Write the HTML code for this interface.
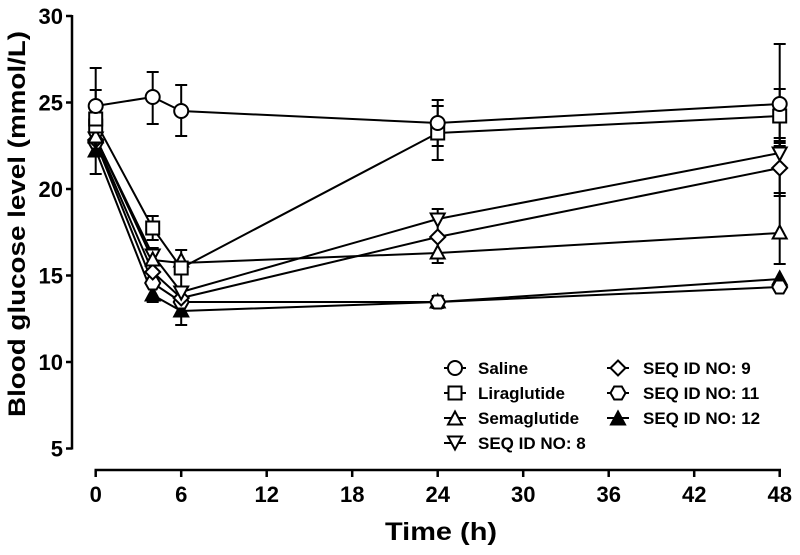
<!DOCTYPE html>
<html>
<head>
<meta charset="utf-8">
<style>
html,body{margin:0;padding:0;background:#fff;}
svg{display:block;}
text{font-family:"Liberation Sans",Arial,sans-serif;font-weight:bold;fill:#000;}
</style>
</head>
<body>
<svg width="800" height="555" viewBox="0 0 800 555" xmlns="http://www.w3.org/2000/svg">
<defs>
  <circle id="mc" r="7" fill="#fff" stroke="#000" stroke-width="2"/>
  <rect id="ms" x="-6.5" y="-6.5" width="13" height="13" fill="#fff" stroke="#000" stroke-width="2"/>
  <polygon id="mtu" points="0,-7.5 7,5.5 -7,5.5" fill="#fff" stroke="#000" stroke-width="2"/>
  <polygon id="mtd" points="0,7.5 7,-5.5 -7,-5.5" fill="#fff" stroke="#000" stroke-width="2"/>
  <polygon id="md" points="0,-7.5 7.5,0 0,7.5 -7.5,0" fill="#fff" stroke="#000" stroke-width="2"/>
  <polygon id="mh" points="-7.5,0 -3.8,-6.5 3.8,-6.5 7.5,0 3.8,6.5 -3.8,6.5" fill="#fff" stroke="#000" stroke-width="2"/>
  <polygon id="mf" points="0,-7.5 7,5.5 -7,5.5" fill="#000" stroke="#000" stroke-width="2"/>
</defs>

<!-- Y axis -->
<g stroke="#000" stroke-width="2.5" fill="none">
  <line x1="72" y1="15" x2="72" y2="449.5"/>
  <line x1="66" y1="16" x2="72" y2="16"/>
  <line x1="66" y1="102.5" x2="72" y2="102.5"/>
  <line x1="66" y1="189" x2="72" y2="189"/>
  <line x1="66" y1="275.5" x2="72" y2="275.5"/>
  <line x1="66" y1="362" x2="72" y2="362"/>
  <line x1="66" y1="448.5" x2="72" y2="448.5"/>
</g>
<g font-size="22" text-anchor="end">
  <text x="63" y="24">30</text>
  <text x="63" y="110.5">25</text>
  <text x="63" y="197">20</text>
  <text x="63" y="283.5">15</text>
  <text x="63" y="370">10</text>
  <text x="63" y="456.5">5</text>
</g>
<text transform="translate(25,224) rotate(-90)" text-anchor="middle" font-size="24" textLength="386" lengthAdjust="spacingAndGlyphs">Blood glucose level (mmol/L)</text>

<!-- X axis -->
<g stroke="#000" stroke-width="2.5" fill="none">
  <line x1="94.5" y1="470" x2="781" y2="470"/>
  <line x1="95.7" y1="470" x2="95.7" y2="477"/>
  <line x1="181.2" y1="470" x2="181.2" y2="477"/>
  <line x1="266.7" y1="470" x2="266.7" y2="477"/>
  <line x1="352.2" y1="470" x2="352.2" y2="477"/>
  <line x1="437.7" y1="470" x2="437.7" y2="477"/>
  <line x1="523.2" y1="470" x2="523.2" y2="477"/>
  <line x1="608.7" y1="470" x2="608.7" y2="477"/>
  <line x1="694.2" y1="470" x2="694.2" y2="477"/>
  <line x1="779.7" y1="470" x2="779.7" y2="477"/>
</g>
<g font-size="22" text-anchor="middle">
  <text x="95.7" y="502">0</text>
  <text x="181.2" y="502">6</text>
  <text x="266.7" y="502">12</text>
  <text x="352.2" y="502">18</text>
  <text x="437.7" y="502">24</text>
  <text x="523.2" y="502">30</text>
  <text x="608.7" y="502">36</text>
  <text x="694.2" y="502">42</text>
  <text x="779.7" y="502">48</text>
</g>
<text x="441" y="540" text-anchor="middle" font-size="25" textLength="112" lengthAdjust="spacingAndGlyphs">Time (h)</text>

<!-- Error bars -->
<g stroke="#000" stroke-width="2" fill="none">
  <path d="M95.7,68V144M89.7,68H101.7M89.7,144H101.7"/>
  <path d="M152.7,72V124M146.7,72H158.7M146.7,124H158.7"/>
  <path d="M181.2,85V136M175.2,85H187.2M175.2,136H187.2"/>
  <path d="M437.7,100V146M431.7,100H443.7M431.7,146H443.7"/>
  <path d="M779.7,44V164M773.7,44H785.7"/>
  <path d="M95.7,90V154M89.7,90H101.7"/>
  <path d="M152.7,216V240M146.7,216H158.7M146.7,240H158.7"/>
  <path d="M181.2,250V288M175.2,250H187.2M175.2,288H187.2"/>
  <path d="M437.7,106V160M431.7,106H443.7M431.7,160H443.7"/>
  <path d="M779.7,89V143M773.7,89H785.7M773.7,143H785.7"/>
  <path d="M152.7,250V270M146.7,250H158.7"/>
  <path d="M437.7,243V263M431.7,263H443.7"/>
  <path d="M779.7,196V264M773.7,196H785.7M773.7,264H785.7"/>
  <path d="M152.7,248V262M146.7,248H158.7"/>
  <path d="M437.7,209V229M431.7,209H443.7"/>
  <path d="M779.7,141V165M773.7,141H785.7"/>
  <path d="M779.7,141V195M773.7,146H785.7M773.7,193H785.7"/>
  <path d="M779.7,140V196M773.7,138H785.7"/>
  <path d="M437.7,296V308M431.7,296H443.7M431.7,308H443.7"/>
  <path d="M95.7,126V174M89.7,174H101.7"/>
  <path d="M152.7,288V302M146.7,302H158.7"/>
  <path d="M181.2,297V325M175.2,325H187.2"/>
</g>

<!-- Lines -->
<g stroke="#000" stroke-width="2" fill="none" stroke-linejoin="round">
  <polyline points="95.7,106 152.7,97 181.2,111 437.7,123 779.7,104"/>
  <polyline points="95.7,122 152.7,228 181.2,268 437.7,133 779.7,116"/>
  <polyline points="95.7,137 152.7,260 181.2,263 437.7,253 779.7,233"/>
  <polyline points="95.7,138 152.7,255 181.2,292 437.7,219 779.7,153"/>
  <polyline points="95.7,140 152.7,272 181.2,298 437.7,237 779.7,168"/>
  <polyline points="95.7,142 152.7,283 181.2,302 437.7,302 779.7,287"/>
  <polyline points="95.7,150 152.7,295 181.2,311 437.7,302 779.7,279"/>
</g>

<!-- Markers -->
<g>
  <use href="#mf" x="95.7" y="151"/>
  <use href="#mf" x="152.7" y="295"/>
  <use href="#mf" x="181.2" y="311"/>
  <use href="#mf" x="437.7" y="302"/>
  <use href="#mf" x="779.7" y="279"/>
  <use href="#mh" x="95.7" y="142"/>
  <use href="#mh" x="152.7" y="283"/>
  <use href="#mh" x="181.2" y="302"/>
  <use href="#mh" x="437.7" y="302"/>
  <use href="#mh" x="779.7" y="287"/>
  <use href="#md" x="95.7" y="140"/>
  <use href="#md" x="152.7" y="272"/>
  <use href="#md" x="181.2" y="298"/>
  <use href="#md" x="437.7" y="237"/>
  <use href="#md" x="779.7" y="168"/>
  <use href="#mtd" x="95.7" y="138"/>
  <use href="#mtd" x="152.7" y="255"/>
  <use href="#mtd" x="181.2" y="292"/>
  <use href="#mtd" x="437.7" y="219"/>
  <use href="#mtd" x="779.7" y="153"/>
  <use href="#mtu" x="95.7" y="137"/>
  <use href="#mtu" x="152.7" y="260"/>
  <use href="#mtu" x="181.2" y="261"/>
  <use href="#mtu" x="437.7" y="253"/>
  <use href="#mtu" x="779.7" y="233"/>
  <use href="#ms" x="95.7" y="126"/>
  <use href="#ms" x="95.7" y="119"/>
  <use href="#ms" x="152.7" y="228"/>
  <use href="#ms" x="181.2" y="268"/>
  <use href="#ms" x="437.7" y="133"/>
  <use href="#ms" x="779.7" y="116"/>
  <use href="#mc" x="95.7" y="106"/>
  <use href="#mc" x="152.7" y="97"/>
  <use href="#mc" x="181.2" y="111"/>
  <use href="#mc" x="437.7" y="123"/>
  <use href="#mc" x="779.7" y="104"/>
</g>

<!-- Legend -->
<g stroke="#000" stroke-width="2">
  <line x1="444" y1="368" x2="466" y2="368"/>
  <line x1="444" y1="393" x2="466" y2="393"/>
  <line x1="444" y1="418" x2="466" y2="418"/>
  <line x1="444" y1="443" x2="466" y2="443"/>
  <line x1="607" y1="368" x2="629" y2="368"/>
  <line x1="607" y1="393" x2="629" y2="393"/>
  <line x1="607" y1="418" x2="629" y2="418"/>
</g>
<use href="#mc" x="455" y="368"/>
<use href="#ms" x="455" y="393"/>
<use href="#mtu" x="455" y="419"/>
<use href="#mtd" x="455" y="442"/>
<use href="#md" x="618" y="368"/>
<use href="#mh" x="618" y="393"/>
<use href="#mf" x="618" y="419"/>
<g font-size="17">
  <text x="478" y="374">Saline</text>
  <text x="478" y="399">Liraglutide</text>
  <text x="478" y="424">Semaglutide</text>
  <text x="478" y="449">SEQ ID NO: 8</text>
  <text x="643" y="374">SEQ ID NO: 9</text>
  <text x="643" y="399">SEQ ID NO: 11</text>
  <text x="643" y="424">SEQ ID NO: 12</text>
</g>
</svg>
</body>
</html>
